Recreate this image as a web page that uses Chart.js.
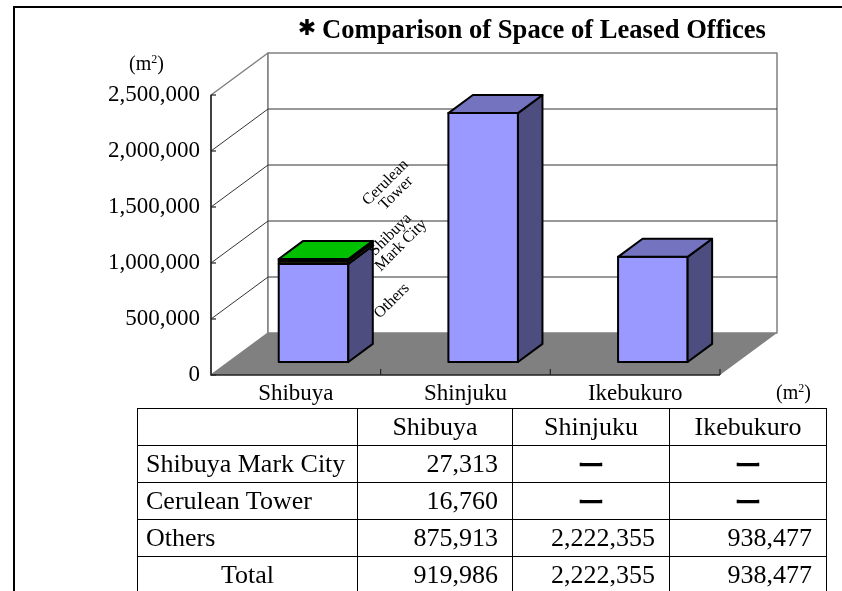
<!DOCTYPE html>
<html lang="en">
<head>
<meta charset="UTF-8">
<title>Comparison of Space of Leased Offices</title>
<script src="https://cdn.jsdelivr.net/npm/chart.js@4"></script>
<style>
  body { margin: 0; background: #fff; }
  #wrap { position: relative; width: 842px; height: 591px; overflow: hidden; background: #fff; }
  #frame { position: absolute; left: 13px; top: 6px; width: 900px; height: 700px;
           border-left: 2px solid #000; border-top: 2px solid #000; }
  canvas { position: absolute; left: 0; top: 0; }
  table { position: absolute; left: 137px; top: 408px; border-collapse: collapse; table-layout: fixed;
          font-family: 'Liberation Serif', 'Times New Roman', serif; font-size: 26px; color: #000; }
  td { border: 1.5px solid #000; height: 36px; line-height: 36px; padding: 0; white-space: nowrap; overflow: hidden; }
  td.name { text-align: left; padding-left: 8px; }
  td.num { text-align: right; padding-right: 14px; }
  td.mid { text-align: center; }
  td.dash { text-align: center; font-family: 'Noto Sans CJK JP', sans-serif; font-size: 28px; font-weight: 500; }
</style>
</head>
<body>
<div id="wrap">
  <div id="frame"></div>
  <canvas id="myChart" width="842" height="591"></canvas>
  <table id="tbl">
    <colgroup><col style="width:220px"><col style="width:155px"><col style="width:157px"><col style="width:157px"></colgroup>
    <tbody></tbody>
  </table>
</div>
<script>
// data
const categories = ['Shibuya', 'Shinjuku', 'Ikebukuro'];
const others = [875913, 2222355, 938477];
const markCity = [27313, null, null];
const cerulean = [16760, null, null];
const yTicks = [0, 500000, 1000000, 1500000, 2000000, 2500000];

const fmt = v => v.toLocaleString('en-US');

// table below the chart
const totals = categories.map((c, i) => (others[i] || 0) + (markCity[i] || 0) + (cerulean[i] || 0));
const rows = [
  ['Shibuya Mark City', markCity, 'name'],
  ['Cerulean Tower', cerulean, 'name'],
  ['Others', others, 'name'],
  ['Total', totals, 'mid']
];
let html = '<tr><td></td>' + categories.map(c => '<td class="mid">' + c + '</td>').join('') + '</tr>';
rows.forEach(r => {
  html += '<tr><td class="' + r[2] + '">' + r[0] + '</td>' +
    r[1].map(v => v ? '<td class="num">' + fmt(v) + '</td>' : '<td class="dash">ー</td>').join('') + '</tr>';
});
document.querySelector('#tbl tbody').innerHTML = html;

// 3d look
const DEPTH = { dx: 57, dy: -42 };
const BAR_FRONT = 0.31, BAR_BACK = 0.74;
const SERIF = '"Liberation Serif", "Times New Roman", serif';

function poly(ctx, pts, fill, stroke, lw) {
  ctx.beginPath();
  pts.forEach((p, i) => i ? ctx.lineTo(p[0], p[1]) : ctx.moveTo(p[0], p[1]));
  ctx.closePath();
  if (fill) { ctx.fillStyle = fill; ctx.fill(); }
  if (stroke) { ctx.strokeStyle = stroke; ctx.lineWidth = lw || 1; ctx.stroke(); }
}
function line(ctx, pts, color, lw) {
  ctx.beginPath();
  pts.forEach((p, i) => i ? ctx.lineTo(p[0], p[1]) : ctx.moveTo(p[0], p[1]));
  ctx.strokeStyle = color; ctx.lineWidth = lw; ctx.stroke();
}
function unit(ctx, x, y, size) {
  ctx.font = size + 'px ' + SERIF;
  ctx.textBaseline = 'alphabetic'; ctx.textAlign = 'left'; ctx.fillStyle = '#000';
  ctx.fillText('(m', x, y);
  let w = ctx.measureText('(m').width;
  ctx.font = Math.round(size * 0.6) + 'px ' + SERIF;
  ctx.fillText('2', x + w, y - size * 0.35);
  w += ctx.measureText('2').width;
  ctx.font = size + 'px ' + SERIF;
  ctx.fillText(')', x + w, y);
}

const threeD = {
  id: 'threeD',
  beforeDatasetsDraw(chart) {
    const { ctx } = chart;
    const xs = chart.scales.x, ys = chart.scales.y;
    const L = xs.left, R = xs.right;
    const y0 = ys.getPixelForValue(0), yT = ys.getPixelForValue(ys.max);
    const dx = DEPTH.dx, dy = DEPTH.dy;
    ctx.save();
    ctx.lineJoin = 'round';
    poly(ctx, [[L, y0], [L, yT], [L + dx, yT + dy], [L + dx, y0 + dy]], '#fff', '#808080', 1.5);
    poly(ctx, [[L + dx, yT + dy], [R + dx, yT + dy], [R + dx, y0 + dy], [L + dx, y0 + dy]], '#fff', '#808080', 1.5);
    ys.ticks.forEach(t => {
      if (t.value === 0 || t.value === ys.max) return;
      const y = ys.getPixelForValue(t.value);
      line(ctx, [[L, y], [L + dx, y + dy], [R + dx, y + dy]], '#333', 1);
    });
    poly(ctx, [[L, y0], [R, y0], [R + dx, y0 + dy], [L + dx, y0 + dy]], '#808080', null);
    line(ctx, [[L, yT], [L, y0], [R, y0]], '#222', 1.5);
    ys.ticks.forEach(t => {
      const y = ys.getPixelForValue(t.value);
      line(ctx, [[L, y], [L + 5, y]], '#222', 1.2);
    });
    for (let i = 1; i <= categories.length; i++) {
      const x = xs.getPixelForValue(i - 0.5);
      line(ctx, [[x, y0], [x, y0 - 6]], '#222', 1.2);
    }
    ctx.restore();
  },
  afterDatasetsDraw(chart) {
    const { ctx } = chart;
    const ox = DEPTH.dx * BAR_FRONT, oy = DEPTH.dy * BAR_FRONT;
    const bx = DEPTH.dx * (BAR_BACK - BAR_FRONT), by = DEPTH.dy * (BAR_BACK - BAR_FRONT);
    ctx.save();
    ctx.lineJoin = 'round';
    let shibuyaRight = 0, shibuyaTop = 0;
    categories.forEach((c, i) => {
      const segs = [];
      chart.data.datasets.forEach((ds, di) => {
        if (!ds.data[i]) return;
        segs.push({ el: chart.getDatasetMeta(di).data[i], ds });
      });
      segs.forEach((s, k) => {
        const { x, y, base, width } = s.el.getProps(['x', 'y', 'base', 'width'], true);
        const xl = x - width / 2 + ox, xr = x + width / 2 + ox, yt = y + oy, yb = base + oy;
        poly(ctx, [[xl, yt], [xr, yt], [xr, yb], [xl, yb]], s.ds.faceColor, '#000', 2);
        poly(ctx, [[xr, yt], [xr + bx, yt + by], [xr + bx, yb + by], [xr, yb]], s.ds.sideColor, '#000', 2);
        if (k === segs.length - 1) {
          poly(ctx, [[xl, yt], [xl + bx, yt + by], [xr + bx, yt + by], [xr, yt]], s.ds.topColor, '#000', 2);
          if (i === 0) { shibuyaRight = xr + bx; shibuyaTop = yt; }
        }
      });
    });
    // series name labels beside the Shibuya stack
    const labelSpots = [
      { lines: ['Cerulean', 'Tower'], dx: 18, dy: -71 },
      { lines: ['Shibuya', 'Mark City'], dx: 23, dy: -19 },
      { lines: ['Others'], dx: 19, dy: 42 }
    ];
    ctx.font = '16px ' + SERIF;
    ctx.fillStyle = '#000';
    ctx.textAlign = 'center';
    ctx.textBaseline = 'middle';
    labelSpots.forEach(l => {
      ctx.save();
      ctx.translate(shibuyaRight + l.dx, shibuyaTop + l.dy);
      ctx.rotate(-Math.PI / 4);
      const lh = 15;
      l.lines.forEach((t, j) => ctx.fillText(t, 0, (j - (l.lines.length - 1) / 2) * lh));
      ctx.restore();
    });
    ctx.restore();
  },
  afterDraw(chart) {
    const { ctx } = chart;
    ctx.save();
    ctx.fillStyle = '#000';
    ctx.font = 'bold 22px "DejaVu Sans"';
    ctx.textAlign = 'center';
    ctx.textBaseline = 'middle';
    ctx.fillText('✱', 307, 29);
    ctx.font = 'bold 26.6px ' + SERIF;
    ctx.textAlign = 'left';
    ctx.textBaseline = 'alphabetic';
    ctx.fillText('Comparison of Space of Leased Offices', 322, 38);
    unit(ctx, 129, 70, 20);
    unit(ctx, 776, 399, 20);
    ctx.restore();
  }
};

const ctx = document.getElementById('myChart').getContext('2d');
new Chart(ctx, {
  type: 'bar',
  data: {
    labels: categories,
    datasets: [
      { label: 'Others', data: others, faceColor: '#9999FF', topColor: '#7373BF', sideColor: '#4D4D80' },
      { label: 'Shibuya Mark City', data: markCity, faceColor: '#1A1A00', topColor: '#1A1A00', sideColor: '#3A3A10' },
      { label: 'Cerulean Tower', data: cerulean, faceColor: '#00FF00', topColor: '#00C000', sideColor: '#008000' }
    ].map(d => Object.assign(d, { backgroundColor: 'rgba(0,0,0,0)', borderWidth: 0, categoryPercentage: 1, barPercentage: 0.41 }))
  },
  options: {
    responsive: false,
    animation: false,
    layout: { padding: { top: 95, right: 122, left: 0, bottom: 0 } },
    plugins: { legend: { display: false }, tooltip: { enabled: false } },
    scales: {
      x: {
        stacked: true,
        grid: { display: false, drawTicks: false },
        border: { display: false },
        ticks: { color: '#000', font: { family: SERIF, size: 23 }, padding: 5, maxRotation: 0 },
        afterFit: s => { s.height = 216; }
      },
      y: {
        stacked: true,
        min: 0, max: 2500000,
        afterBuildTicks: s => { s.ticks = yTicks.map(v => ({ value: v })); },
        grid: { display: false, drawTicks: false },
        border: { display: false },
        ticks: { color: '#000', font: { family: SERIF, size: 23 }, padding: 11, callback: v => fmt(v) },
        afterFit: s => { s.width = 211; }
      }
    }
  },
  plugins: [threeD]
});
</script>
</body>
</html>
